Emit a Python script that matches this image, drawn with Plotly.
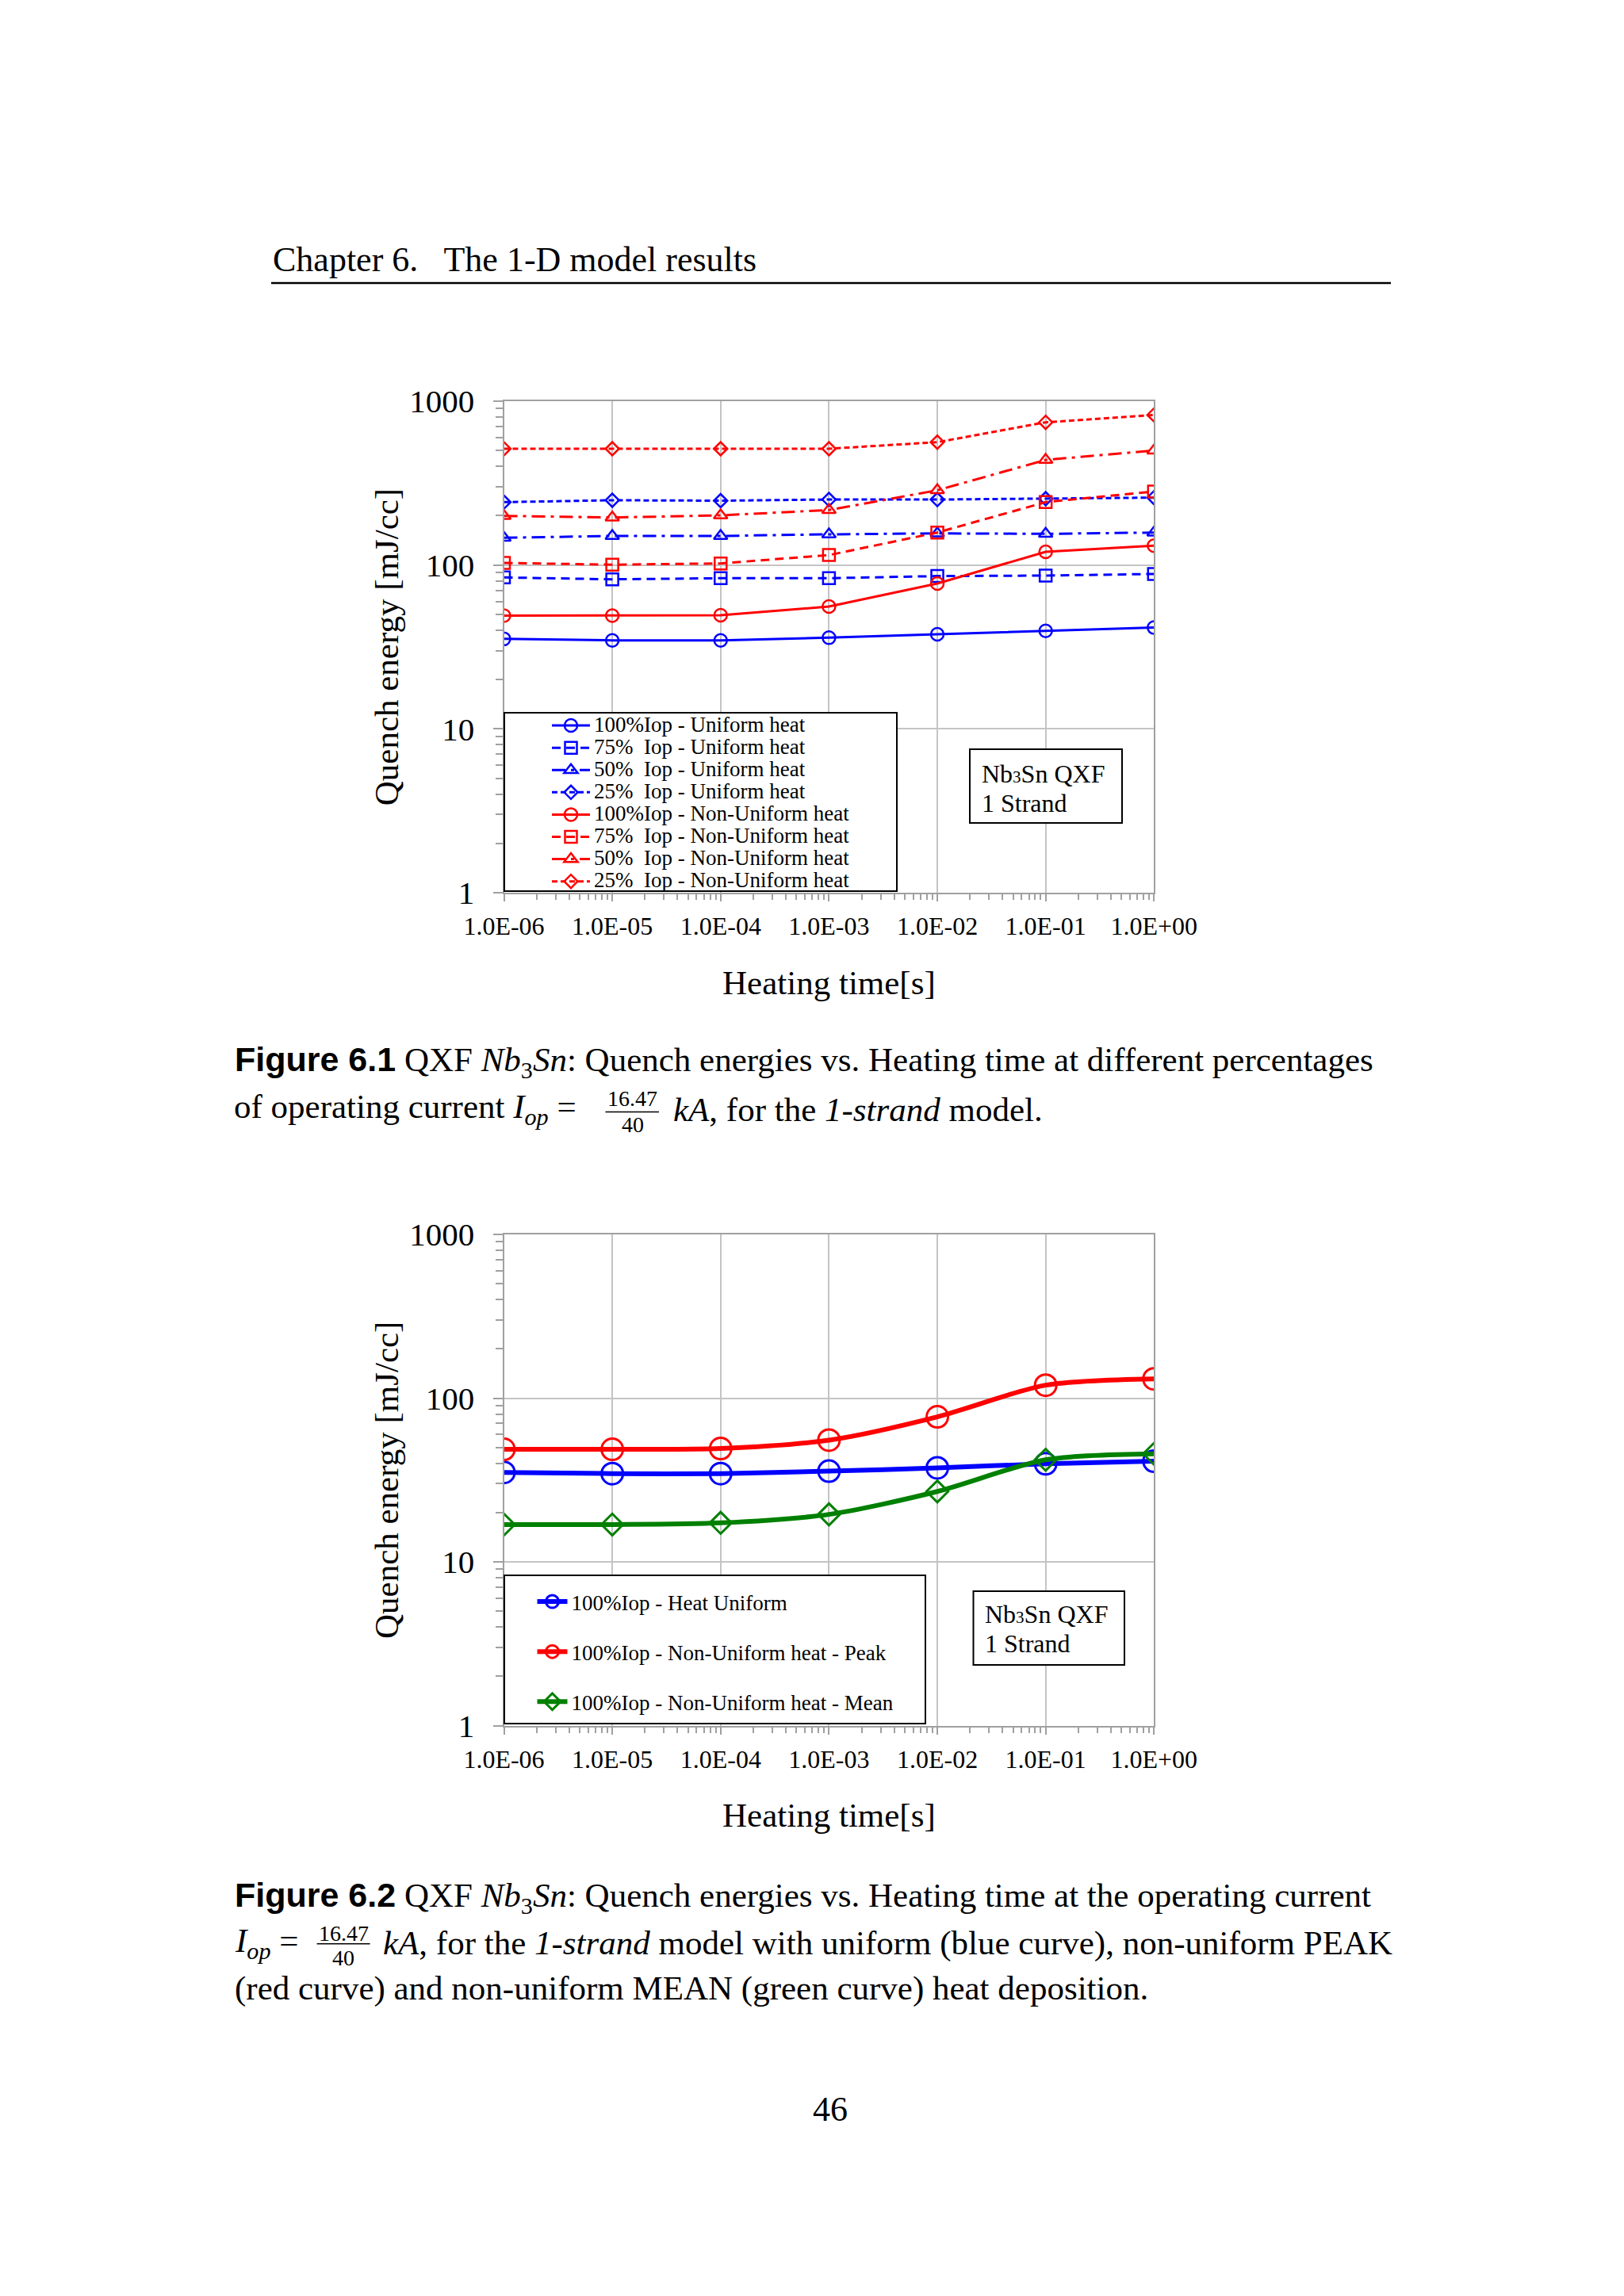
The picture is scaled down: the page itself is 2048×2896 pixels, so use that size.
import plotly.graph_objects as go

W, H = 2048, 2896

# ---------------- data ----------------
heating_time = [1e-6, 1e-5, 1e-4, 1e-3, 1e-2, 1e-1, 1e0]
x_tick_labels = ["1.0E-06", "1.0E-05", "1.0E-04", "1.0E-03", "1.0E-02", "1.0E-01", "1.0E+00"]
y_tick_vals = [1, 10, 100, 1000]
y_tick_labels = ["1", "10", "100", "1000"]

# Figure 6.1 : quench energy [mJ/cc]
uniform_100 = [35.4, 34.7, 34.7, 36.0, 37.8, 39.6, 41.5]
uniform_75 = [84.0, 81.8, 83.1, 83.1, 85.6, 86.2, 88.2]
uniform_50 = [146.6, 150.5, 150.5, 153.9, 156.0, 155.0, 157.8]
uniform_25 = [242, 248.5, 247, 251, 251, 254, 257.8]
nonuniform_100 = [49.1, 49.1, 49.4, 55.8, 77.1, 120.4, 131.2]
nonuniform_75 = [103, 100.5, 102.3, 115, 157.8, 242, 280.8]
nonuniform_50 = [199.5, 195, 201, 216.6, 286, 438, 500]
nonuniform_25 = [512.5, 512.5, 512.5, 512.5, 562, 743, 824]

names_61 = ["100%Iop - Uniform heat", "75%\u00a0 Iop - Uniform heat",
            "50%\u00a0 Iop - Uniform heat", "25%\u00a0 Iop - Uniform heat",
            "100%Iop - Non-Uniform heat", "75%\u00a0 Iop - Non-Uniform heat",
            "50%\u00a0 Iop - Non-Uniform heat", "25%\u00a0 Iop - Non-Uniform heat"]

# Figure 6.2
heat_uniform = [35.2, 34.6, 34.6, 35.8, 37.5, 39.7, 41.2]
nonuniform_peak = [48.7, 48.7, 49.2, 55.4, 76.9, 120.0, 131.2]
nonuniform_mean = [16.9, 16.9, 17.3, 19.5, 26.9, 42.0, 45.7]
names_62 = ["100%Iop - Heat Uniform", "100%Iop - Non-Uniform heat - Peak",
            "100%Iop - Non-Uniform heat - Mean"]

# ---------------- style ----------------
SERIF = "Liberation Serif, Times New Roman, serif"
BLUE, RED, GREEN = "#0000ff", "#ff0000", "#008000"
AX = "#a0a0a0"
GRID = "#c4c4c4"


def px(x):
    return x / W


def py(y):
    return 1 - y / H


X_DOM = [px(635.5), px(1455.3)]
Y1_DOM = [py(1126), py(506)]
Y2_DOM = [py(2176.5), py(1557)]

fig = go.Figure()

styles_61 = [
    (uniform_100, BLUE, "solid", "circle-open", 16),
    (uniform_75, BLUE, "11px,7px", "square-open", 15),
    (uniform_50, BLUE, "17px,7px,4px,7px", "triangle-up-open", 15),
    (uniform_25, BLUE, "7px,4px", "diamond-open", 13),
    (nonuniform_100, RED, "solid", "circle-open", 16),
    (nonuniform_75, RED, "11px,7px", "square-open", 15),
    (nonuniform_50, RED, "17px,7px,4px,7px", "triangle-up-open", 15),
    (nonuniform_25, RED, "7px,4px", "diamond-open", 13),
]
for name, (vals, col, dash, sym, size) in zip(names_61, styles_61):
    fig.add_trace(go.Scatter(
        x=heating_time, y=vals, mode="lines+markers",
        name='<span style="font-size:27px">' + name + "</span>",
        line=dict(color=col, width=3, dash=dash),
        marker=dict(symbol=sym, size=size, color=col, line=dict(color=col, width=2.5)),
        xaxis="x", yaxis="y", legend="legend"))

styles_62 = [
    (heat_uniform, BLUE, "circle-open", 27),
    (nonuniform_peak, RED, "circle-open", 27),
    (nonuniform_mean, GREEN, "diamond-open", 21),
]
for i, (name, (vals, col, sym, size)) in enumerate(zip(names_62, styles_62)):
    fig.add_trace(go.Scatter(
        x=heating_time, y=vals, mode="lines+markers", name=name,
        line=dict(color=col, width=6, shape="spline", smoothing=0.8),
        marker=dict(symbol=sym, size=size, color=col, line=dict(color=col, width=3)),
        xaxis="x2", yaxis="y2", legend="legend2", legendgroup="g%d" % i))


def xaxis_cfg(anchor):
    return dict(
        domain=X_DOM, anchor=anchor, type="log", range=[-6, 0], automargin=False,
        tickmode="array", tickvals=heating_time, ticktext=x_tick_labels,
        ticks="outside", ticklen=9, tickwidth=2, tickcolor=AX,
        showline=True, linecolor=AX, linewidth=2, mirror=True,
        showgrid=True, gridcolor=GRID, gridwidth=2, zeroline=False,
        minor=dict(ticks="outside", ticklen=7, tickwidth=1.5, tickcolor=AX, dtick="D1", showgrid=False),
        tickfont=dict(family=SERIF, size=32, color="black"), ticklabelstandoff=4,
        title=dict(text="Heating time[s]", font=dict(family=SERIF, size=43, color="black"), standoff=38),
        fixedrange=True)


def yaxis_cfg(domain, anchor):
    return dict(
        domain=domain, anchor=anchor, type="log", range=[0, 3], automargin=False,
        tickmode="array", tickvals=y_tick_vals, ticktext=y_tick_labels,
        ticks="outside", ticklen=12, tickwidth=2, tickcolor=AX,
        showline=True, linecolor=AX, linewidth=2, mirror=True,
        showgrid=True, gridcolor=GRID, gridwidth=2, zeroline=False,
        minor=dict(ticks="outside", ticklen=9, tickwidth=1.5, tickcolor=AX, dtick="D1", showgrid=False),
        tickfont=dict(family=SERIF, size=41, color="black"), ticklabelstandoff=15,
        title=dict(text="Quench energy [mJ/cc]", font=dict(family=SERIF, size=43, color="black"), standoff=0),
        fixedrange=True)


def rect(x0, y0, x1, y1, width=2):
    return dict(type="rect", xref="paper", yref="paper", x0=px(x0), x1=px(x1), y0=py(y1), y1=py(y0),
                line=dict(color="black", width=width), fillcolor="white", layer="above")


def hline(x0, x1, y, width):
    return dict(type="line", xref="paper", yref="paper", x0=px(x0), x1=px(x1), y0=py(y), y1=py(y),
                line=dict(color="black", width=width), layer="above")


shapes = [
    hline(342, 1754, 357, 2.5),           # page header rule
    rect(636, 899, 1131, 1124),           # legend frame, fig 6.1
    rect(1223, 945, 1415, 1038),          # label frame, fig 6.1
    rect(636, 1987, 1167, 2174),          # legend frame, fig 6.2
    rect(1227.5, 2007, 1418, 2100),       # label frame, fig 6.2
    hline(763.5, 831, 1402.5, 1.5),       # fraction bar caption 6.1
    hline(399.6, 466.6, 2451.7, 1.5),     # fraction bar caption 6.2
]


def ann(text, x, y, size, xanchor="left", family=SERIF):
    return dict(text=text, x=px(x), y=py(y), xref="paper", yref="paper", xanchor=xanchor,
                yanchor="middle", showarrow=False, align="left",
                font=dict(family=family, size=size, color="black"))


BOLD_SANS = '<b><span style="font-family:Liberation Sans">%s</span></b>'
NB3SN = "<i>Nb</i><sub>3</sub><i>Sn</i>"
CAP = 43
FRAC = 28

annotations = [
    ann("Chapter 6.\u00a0\u00a0 The 1-D model results", 342, 327, 44),
    # box labels
    ann('Nb<span style="font-size:21px">3</span>Sn QXF', 1236, 975.5, 32),
    ann("1 Strand", 1236, 1012.5, 32),
    ann('Nb<span style="font-size:21px">3</span>Sn QXF', 1240, 2035.5, 32),
    ann("1 Strand", 1240, 2073, 32),
    # caption 6.1
    ann(BOLD_SANS % "Figure 6.1" + " QXF " + NB3SN +
        ": Quench energies vs. Heating time at different percentages", 294, 1339, CAP),
    ann("of operating current <i>I</i><sub><i>op</i></sub> =", 293, 1399, CAP),
    ann("16.47", 797.5, 1385, FRAC, xanchor="center"),
    ann("40", 797.5, 1419, FRAC, xanchor="center"),
    ann("<i>kA</i>, for the <i>1-strand</i> model.", 847, 1399, CAP),
    # caption 6.2
    ann(BOLD_SANS % "Figure 6.2" + " QXF " + NB3SN +
        ": Quench energies vs. Heating time at the operating current", 294, 2393, CAP),
    ann("<i>I</i><sub><i>op</i></sub> =", 294, 2451, CAP),
    ann("16.47", 433, 2438, FRAC, xanchor="center"),
    ann("40", 433, 2469, FRAC, xanchor="center"),
    ann("<i>kA</i>, for the <i>1-strand</i> model with uniform (blue curve), non-uniform PEAK",
        481, 2451, CAP),
    ann("(red curve) and non-uniform MEAN (green curve) heat deposition.", 294, 2508, CAP),
    # page number
    ann("46", 1047, 2660, 44, xanchor="center"),
]

fig.update_layout(
    width=W, height=H, autosize=False,
    margin=dict(l=0, r=0, t=0, b=0, pad=0, autoexpand=False),
    paper_bgcolor="white", plot_bgcolor="white",
    font=dict(family=SERIF, color="black"),
    xaxis=xaxis_cfg("y"), yaxis=yaxis_cfg(Y1_DOM, "x"),
    xaxis2=xaxis_cfg("y2"), yaxis2=yaxis_cfg(Y2_DOM, "x2"),
    showlegend=True,
    legend=dict(x=px(691), xanchor="left", y=py(896), yanchor="top",
                bgcolor="rgba(0,0,0,0)", borderwidth=0, itemwidth=48,
                font=dict(family=SERIF, size=19.3, color="black"), traceorder="normal"),
    legend2=dict(x=px(672.5), xanchor="left", y=py(1996), yanchor="top",
                 bgcolor="rgba(0,0,0,0)", borderwidth=0, itemwidth=38, tracegroupgap=25,
                 font=dict(family=SERIF, size=27, color="black")),
    shapes=shapes, annotations=annotations,
)

fig.write_html("out.html", config={"displayModeBar": False},
               post_script="document.body.style.margin='0';document.body.style.overflow='hidden';")
